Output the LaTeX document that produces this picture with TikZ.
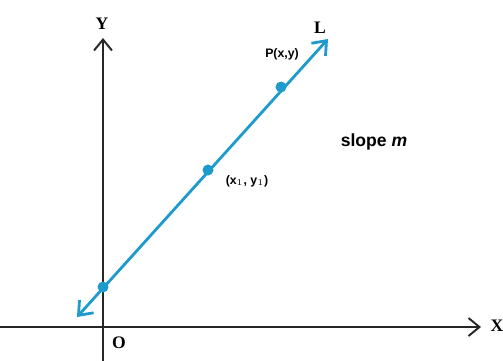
\documentclass[tikz,border=0pt]{standalone}
\usepackage{fontspec}
\setmainfont{Liberation Serif}
\setsansfont{Liberation Sans}
\usepackage{tikz}
\usetikzlibrary{positioning, calc, arrows.meta}
\definecolor{LineBlue}{RGB}{30,155,205}

\begin{document}
\begin{tikzpicture}[x=0.02cm, y=-0.02cm,
  axis/.style = {draw=black!85, line width=1.1pt, -{Straight Barb[length=2.2mm, width=3.6mm, line width=1.1pt]}},
  pt/.style = {circle, fill=LineBlue, minimum size=2.2mm, inner sep=0pt},
  axlbl/.style = {font=\bfseries},
  ptlbl/.style = {font=\sffamily\bfseries\scriptsize}
]
\useasboundingbox (0,0) rectangle (503,360);

% axes
\coordinate (xs) at (0,327);
\coordinate (xe) at (481,327);
\coordinate (ys) at (103,362);
\coordinate (ye) at (103,38);
\draw[axis] (xs) -- (xe);
\draw[axis] (ys) -- (ye);
\node[axlbl] (X) at (497,326) {X};
\node[axlbl] (Y) at (102,24) {Y};
\node[axlbl] (O) at (119,343) {O};

% line L
\coordinate (la) at (77,317);
\coordinate (lb) at (328,39);
\draw[LineBlue, line width=1.6pt, {Straight Barb[length=2.4mm, width=3.8mm, line width=1.6pt]}-{Straight Barb[length=2.4mm, width=3.8mm, line width=1.6pt]}] (la) -- (lb);
\node[axlbl] (L) at (320,28) {L};

% points
\node[pt] (A) at (103,287) {};
\node[pt] (B) at (208,170) {};
\node[pt] (P) at (281,87) {};
\node[ptlbl] (Plbl) at (282,54) {P(x,y)};
\node[ptlbl] (Blbl) at (247,181) {(x$_1$, y$_1$)};

% slope
\node[font=\sffamily\bfseries] (slope) at (374,142) {slope \textit{m}};

\end{tikzpicture}
\end{document}
